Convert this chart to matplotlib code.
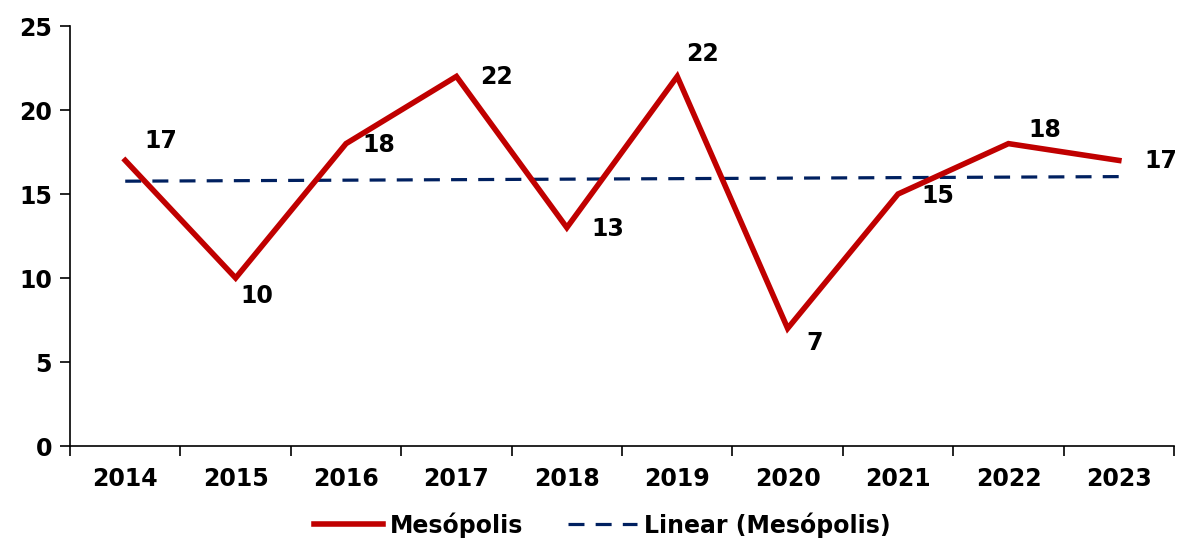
#!/usr/bin/env python3

import numpy as np
import matplotlib
matplotlib.use('Agg')
import matplotlib.pyplot as plt

# data
years = ['2014', '2015', '2016', '2017', '2018', '2019', '2020', '2021', '2022', '2023']
values = [17, 10, 18, 22, 13, 22, 7, 15, 18, 17]
series_name = 'Mesópolis'
trend_name = 'Linear (Mesópolis)'

# label offsets in pixels (dx, dy), y up
label_offsets = [(36, 19), (21, -18), (33, -1), (40, -1), (41, -1),
                 (25, 22), (27, -15), (40, -2), (36, 14), (42, -1)]

red = '#C00000'
navy = '#002060'
fs = 17

plt.rcParams['font.family'] = ['DejaVu Sans']
plt.rcParams['font.weight'] = 'bold'

fig = plt.figure(figsize=(11.79, 5.49), dpi=100)
ax = fig.add_axes([0.0594, 0.1876, 0.9364, 0.765])

x = np.arange(len(years))
ax.plot(x, values, color=red, lw=4, label=series_name, solid_joinstyle='miter', zorder=3)

# linear trend
coef = np.polyfit(x, values, 1)
ax.plot(x, np.polyval(coef, x), color=navy, lw=2.3, ls=(0, (5, 3.5)), label=trend_name, zorder=2)

for xi, v, (dx, dy) in zip(x, values, label_offsets):
    ax.annotate(str(v), (xi, v), xytext=(dx, dy), textcoords='offset pixels',
                ha='center', va='center', fontsize=fs, fontweight='bold')

ax.set_xlim(-0.5, len(years) - 0.5)
ax.set_ylim(0, 25)
ax.set_yticks(range(0, 26, 5))
ax.set_xticks(x)
ax.set_xticklabels(years)
ax.set_xticks(np.arange(-0.5, len(years), 1), minor=True)
ax.tick_params(axis='x', which='major', length=0, pad=15, labelsize=fs)
ax.tick_params(axis='x', which='minor', length=7, width=1.2, direction='out')
ax.tick_params(axis='y', length=7, width=1.2, pad=6, labelsize=fs)
for lab in ax.get_xticklabels() + ax.get_yticklabels():
    lab.set_fontweight('bold')

for s in ['top', 'right']:
    ax.spines[s].set_visible(False)
for s in ['left', 'bottom']:
    ax.spines[s].set_linewidth(1.2)

fig.legend(loc='lower center', bbox_to_anchor=(0.511, -0.018), ncol=2, frameon=False,
           handlelength=2.9, handletextpad=0.3, columnspacing=1.9,
           prop={'weight': 'bold', 'size': fs})

plt.savefig('out.png', dpi=100)
